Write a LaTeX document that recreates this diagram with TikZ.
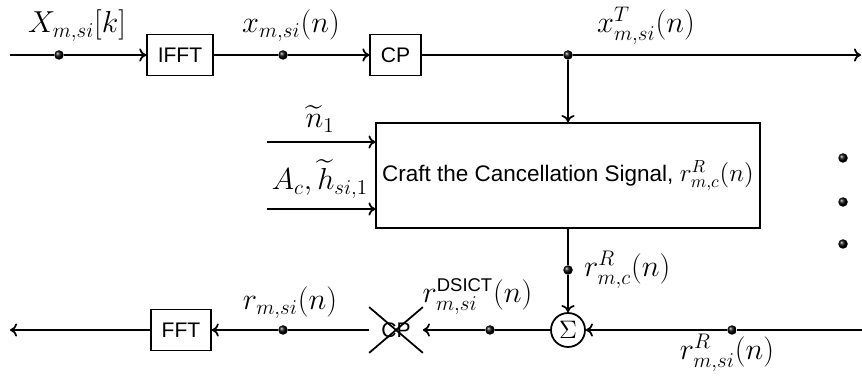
\documentclass[tikz,border=0pt]{standalone}
\usepackage{fontspec}
\setsansfont{Liberation Sans}
\usepackage{amsmath}
\usetikzlibrary{arrows.meta}

\begin{document}
\begin{tikzpicture}[
  >={To[length=4pt,width=7.5pt]},
  every node/.style={font=\Large},
  blockbox/.style={rectangle,draw=black,line width=1pt,minimum height=0.82cm,inner xsep=6pt,
    font=\sffamily\large},
  craftbox/.style={rectangle,draw=black,line width=1pt,minimum width=7.66cm,minimum height=2.1cm,
    align=center,font=\sffamily\fontsize{12.8}{15}\selectfont},
  crossbox/.style={rectangle,inner sep=0pt,minimum width=1.06cm,minimum height=0.9cm,
    font=\sffamily\large},
  sumnode/.style={circle,draw=black,line width=1pt,minimum size=0.68cm,inner sep=0pt,font=\Large},
  sigdot/.style={circle,inner sep=0pt,minimum size=0.19cm,shade,ball color=black},
  sigline/.style={->,line width=1pt},
  plainline/.style={line width=1pt},
  siglabel/.style={anchor=base,font=\fontsize{18.5}{22}\selectfont},
]
\useasboundingbox (0,0) rectangle (17.24,7.6);

% ---------- Transmit chain ----------
\coordinate (tin) at (0.2,6.5);
\node[sigdot] (d1) at (1.18,6.5) {};
\node[blockbox] (ifft) at (3.6,6.5) {IFFT};
\node[sigdot] (d2) at (5.66,6.5) {};
\node[blockbox] (cp) at (7.91,6.5) {CP};
\node[sigdot] (d3) at (11.36,6.5) {};
\coordinate (tout) at (17.22,6.5);

\node[siglabel] (lX) at (1.54,6.94) {$X_{m,si}[k]$};
\node[siglabel] (lx) at (5.82,6.94) {$x_{m,si}(n)$};
\node[siglabel] (lxT) at (12.92,6.94) {$x^{T}_{m,si}(n)$};

\draw[plainline] (tin) -- (d1);
\draw[sigline] (d1) -- (ifft);
\draw[plainline] (ifft) -- (d2);
\draw[sigline] (d2) -- (cp);
\draw[plainline] (cp) -- (d3);
\draw[sigline] (d3) -- (tout);

% ---------- Cancellation signal block ----------
\node[craftbox] (craft) at (11.36,4.09) {Craft the Cancellation Signal, {\Large$r^{R}_{m,c}(n)$}};
\draw[sigline] (d3) -- (craft.north);

\coordinate (in1) at (5.34,4.76);
\coordinate (in2) at (5.34,3.42);
\draw[sigline] (in1) -- (in1 -| craft.west);
\draw[sigline] (in2) -- (in2 -| craft.west);
\node[siglabel] (ln1) at (6.4,5.04) {$\widetilde{n}_{1}$};
\node[siglabel] (lAh) at (6.4,3.8) {$A_{c},\widetilde{h}_{si,1}$};

% more branches
\node[sigdot] (m1) at (16.86,4.44) {};
\node[sigdot] (m2) at (16.86,3.56) {};
\node[sigdot] (m3) at (16.86,2.72) {};

% ---------- Receive chain ----------
\node[sigdot] (d4) at (11.36,2.2) {};
\node[sumnode] (sum) at (11.36,1.0) {$\Sigma$};
\coordinate (bin) at (17.24,1.0);
\node[sigdot] (d5) at (14.64,1.0) {};
\node[sigdot] (d6) at (9.8,1.0) {};
\node[crossbox] (cpx) at (7.92,1.0) {CP};
\node[sigdot] (d7) at (5.66,1.0) {};
\node[blockbox] (fft) at (3.62,1.0) {FFT};
\coordinate (bout) at (0.2,1.0);

\draw[line width=1pt] (cpx.north west) -- (cpx.south east);
\draw[line width=1pt] (cpx.south west) -- (cpx.north east);

\draw[plainline] (craft.south) -- (d4);
\draw[sigline] (d4) -- (sum);
\draw[plainline] (bin) -- (d5);
\draw[sigline] (d5) -- (sum);
\draw[plainline] (sum) -- (d6);
\draw[sigline] (d6) -- (cpx);
\draw[plainline] (cpx) -- (d7);
\draw[sigline] (d7) -- (fft);
\draw[sigline] (fft) -- (bout);

\node[siglabel,anchor=base west] (lrc) at (11.56,2.06) {$r^{R}_{m,c}(n)$};
\node[siglabel] (lrsi) at (14.54,0.4) {$r^{R}_{m,si}(n)$};
\node[siglabel] (lrd) at (9.55,1.54) {$r^{\mbox{\sffamily\fontsize{10.5}{12}\selectfont DSICT}}_{m,si}(n)$};
\node[siglabel] (lr) at (5.8,1.4) {$r_{m,si}(n)$};

\end{tikzpicture}
\end{document}
